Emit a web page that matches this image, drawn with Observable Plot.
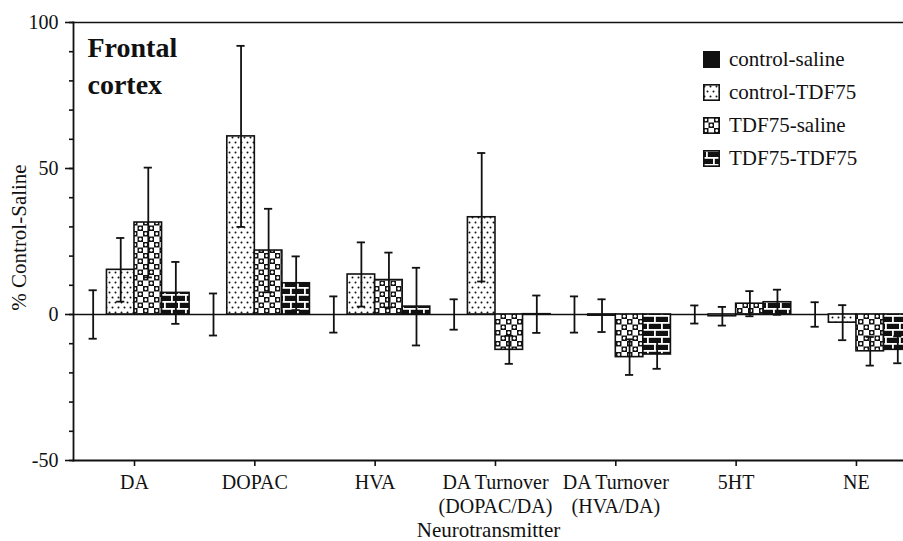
<!DOCTYPE html>
<html>
<head>
<meta charset="utf-8">
<script src="https://cdn.jsdelivr.net/npm/d3@7"></script>
<script src="https://cdn.jsdelivr.net/npm/@observablehq/plot@0.6"></script>
<style>
  html, body { margin: 0; padding: 0; background: #fff; overflow: hidden; }
  #wrap { position: relative; width: 903px; height: 541px; overflow: hidden; }
  .legend {
    position: absolute; left: 703px; top: 43px;
    font-family: 'Liberation Serif', 'DejaVu Serif', serif;
    font-size: 21px; color: #111;
  }
  .legend .row { display: flex; align-items: center; height: 33px; }
  .legend svg { margin-right: 9px; display: block; }
</style>
</head>
<body>
<div id="wrap"></div>
<script>
// Neurotransmitter measures on the x axis
const categories = ["DA", "DOPAC", "HVA", "DA Turnover\n(DOPAC/DA)", "DA Turnover\n(HVA/DA)", "5HT", "NE"];
// Treatment groups
const groups = ["control-saline", "control-TDF75", "TDF75-saline", "TDF75-TDF75"];

// Mean change, % of control-saline
const controlSaline = [0, 0, 0, 0, 0, 0, 0];
const controlTDF75  = [15.3, 61.0, 13.7, 33.3, -0.4, -0.6, -2.8];
const tdf75Saline   = [31.5, 21.9, 11.8, -12.1, -14.6, 3.7, -12.6];
const tdf75TDF75    = [7.4, 10.7, 2.7, 0.1, -13.7, 4.2, -12.1];

// Error (SEM)
const controlSalineErr = [8.3, 7.2, 6.2, 5.2, 6.2, 3.1, 4.2];
const controlTDF75Err  = [10.9, 31.0, 11.0, 22.0, 5.6, 3.2, 6.0];
const tdf75SalineErr   = [18.8, 14.3, 9.4, 4.8, 6.1, 4.3, 4.9];
const tdf75TDF75Err    = [10.6, 9.2, 13.3, 6.4, 4.9, 4.3, 4.6];

const yTicks = [-50, 0, 50, 100];

const means = [controlSaline, controlTDF75, tdf75Saline, tdf75TDF75];
const errs = [controlSalineErr, controlTDF75Err, tdf75SalineErr, tdf75TDF75Err];
const fills = ["#111", "url(#pat-dots)", "url(#pat-check)", "url(#pat-brick)"];

// Each category occupies one unit on x; four bars share ~92% of it.
const barW = 0.229;
const capHalf = 0.034;
const rows = [];
groups.forEach((g, gi) => {
  categories.forEach((c, ci) => {
    const x1 = ci + (gi - 2) * barW;
    rows.push({
      group: g, cat: c, mean: means[gi][ci], err: errs[gi][ci],
      x1, x2: x1 + barW, cx: x1 + barW / 2
    });
  });
});

const serif = "'Liberation Serif', 'DejaVu Serif', serif";

const chart = Plot.plot({
  width: 903,
  height: 541,
  marginLeft: 73,
  marginRight: 0,
  marginTop: 22,
  marginBottom: 81,
  style: { fontFamily: serif, color: "#111", background: "#fff" },
  x: { type: "linear", domain: [-0.507, 6.391], axis: null },
  y: { domain: [-50, 100], axis: null },
  color: { domain: groups, range: fills },
  marks: [
    Plot.frame({ anchor: "left", stroke: "#111", strokeWidth: 1.8 }),
    Plot.frame({ anchor: "top", stroke: "#111", strokeWidth: 1.6 }),
    Plot.frame({ anchor: "bottom", stroke: "#111", strokeWidth: 1.8 }),
    // minor y ticks every 10
    Plot.axisY({ ticks: d3.range(-50, 101, 10), tickSize: 4, tickFormat: () => "", label: null, strokeWidth: 1.6 }),
    // major y ticks with labels
    Plot.axisY({ ticks: yTicks, tickSize: 8, tickPadding: 7, fontSize: 20, fontFamily: serif, label: null, strokeWidth: 1.6, tickFormat: d => String(d) }),
    Plot.axisX({
      ticks: d3.range(categories.length), tickFormat: i => categories[i],
      tickSize: 6, tickPadding: 5, fontSize: 20, fontFamily: serif, lineHeight: 1.2, label: null, strokeWidth: 1.6
    }),
    Plot.ruleY([0], { stroke: "#111", strokeWidth: 1.6 }),
    Plot.rect(rows, { x1: "x1", x2: "x2", y1: 0, y2: "mean", fill: "group", stroke: "#111", strokeWidth: 1.6 }),
    Plot.ruleX(rows, { x: "cx", y1: d => d.mean - d.err, y2: d => d.mean + d.err, stroke: "#111", strokeWidth: 1.8 }),
    Plot.ruleY(rows, { y: d => d.mean + d.err, x1: d => d.cx - capHalf, x2: d => d.cx + capHalf, stroke: "#111", strokeWidth: 1.8 }),
    Plot.ruleY(rows, { y: d => d.mean - d.err, x1: d => d.cx - capHalf, x2: d => d.cx + capHalf, stroke: "#111", strokeWidth: 1.8 }),
    Plot.text(["Frontal\ncortex"], {
      frameAnchor: "top-left", dx: 14, dy: 8, lineAnchor: "top", textAnchor: "start",
      fontSize: 28, fontWeight: "bold", fontFamily: serif, lineHeight: 1.33, fill: "#111"
    }),
    Plot.text(["% Control-Saline"], {
      frameAnchor: "left", dx: -54, dy: -4, rotate: -90, textAnchor: "middle",
      fontSize: 21, fontFamily: serif, fill: "#111"
    }),
    Plot.text(["Neurotransmitter"], {
      frameAnchor: "bottom", dy: 76, lineAnchor: "bottom", textAnchor: "middle",
      fontSize: 21, fontFamily: serif, fill: "#111"
    })
  ]
});

// Fill patterns for the bars and legend swatches
const defs = `
<defs>
  <pattern id="pat-dots" patternUnits="userSpaceOnUse" width="6" height="10">
    <rect width="6" height="10" fill="#fff"/>
    <circle cx="1.5" cy="2.5" r="1" fill="#111"/>
    <circle cx="4.5" cy="7.5" r="1" fill="#111"/>
  </pattern>
  <pattern id="pat-check" patternUnits="userSpaceOnUse" width="11" height="11">
    <rect width="11" height="11" fill="#fff"/>
    <rect x="0" y="0" width="5.5" height="5.5" fill="#111"/>
    <rect x="5.5" y="5.5" width="5.5" height="5.5" fill="#111"/>
    <circle cx="2.75" cy="2.75" r="1.4" fill="#fff"/>
    <circle cx="8.25" cy="8.25" r="1.4" fill="#fff"/>
  </pattern>
  <pattern id="pat-brick" patternUnits="userSpaceOnUse" width="14" height="14">
    <rect width="14" height="14" fill="#111"/>
    <rect x="0" y="0" width="14" height="1.8" fill="#fff"/>
    <rect x="0" y="7" width="14" height="1.8" fill="#fff"/>
    <rect x="3" y="0" width="1.8" height="7" fill="#fff"/>
    <rect x="10" y="7" width="1.8" height="7" fill="#fff"/>
  </pattern>
</defs>`;
chart.insertAdjacentHTML("afterbegin", defs);

const wrap = document.getElementById("wrap");
wrap.appendChild(chart);

// Legend
const legend = document.createElement("div");
legend.className = "legend";
groups.forEach((g, i) => {
  const row = document.createElement("div");
  row.className = "row";
  row.innerHTML = `<svg width="17" height="17"><rect x="0.8" y="0.8" width="15.4" height="15.4" fill="${fills[i]}" stroke="#111" stroke-width="1.6"/></svg><span>${g}</span>`;
  legend.appendChild(row);
});
wrap.appendChild(legend);
</script>
</body>
</html>
